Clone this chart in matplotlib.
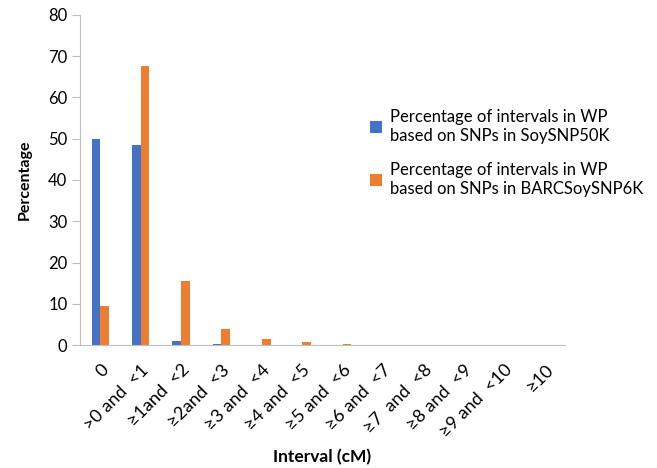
import numpy as np
import matplotlib
matplotlib.use('Agg')
import matplotlib.pyplot as plt

plt.rcParams['font.family'] = ['Lato', 'DejaVu Sans']

intervals = ['0', '>0 and  <1', '≥1and  <2', '≥2and  <3', '≥3 and  <4', '≥4 and  <5',
             '≥5 and  <6', '≥6 and  <7', '≥7  and  <8', '≥8 and  <9', '≥9 and  <10', '≥10']
soysnp50k = [50.0, 48.5, 1.0, 0.2, 0, 0, 0, 0, 0, 0, 0, 0]
barcsoysnp6k = [9.5, 67.7, 15.5, 4.0, 1.5, 0.7, 0.3, 0, 0, 0, 0, 0]
labels = ['Percentage of intervals in WP\nbased on SNPs in SoySNP50K',
          'Percentage of intervals in WP\nbased on SNPs in BARCSoySNP6K']

fig = plt.figure(figsize=(6.57, 4.68), dpi=100)
ax = fig.add_axes([80/657, 123/468, 485/657, 330/468])

x = np.arange(len(intervals))
w = 0.215
ax.bar(x - w/2, soysnp50k, w, color='#4472C4', label=labels[0])
ax.bar(x + w/2, barcsoysnp6k, w, color='#ED7D31', label=labels[1])

ax.set_xlim(-0.5, len(intervals) - 0.5)
ax.set_ylim(0, 80)
ax.set_yticks(range(0, 81, 10))
ax.set_xticks(x)
ax.set_xticklabels(intervals, rotation=45, ha='right', rotation_mode='anchor', fontsize=13)
ax.tick_params(axis='x', length=0, pad=12)
ax.tick_params(axis='y', length=6, color='#bfbfbf', labelsize=12, pad=3)

for s in ['top', 'right']:
    ax.spines[s].set_visible(False)
for s in ['left', 'bottom']:
    ax.spines[s].set_color('#bfbfbf')

ax.set_ylabel('Percentage', fontsize=11.5, fontweight='bold', labelpad=12)
ax.set_xlabel('Interval (cM)', fontsize=12.5, fontweight='bold', labelpad=6)

fig.legend(loc='center left', bbox_to_anchor=(355/657, 1 - 153/468), frameon=False,
           fontsize=12, handlelength=0.7, handleheight=0.7, handletextpad=0.5,
           labelspacing=1.1)

fig.savefig('out.png', dpi=100)
